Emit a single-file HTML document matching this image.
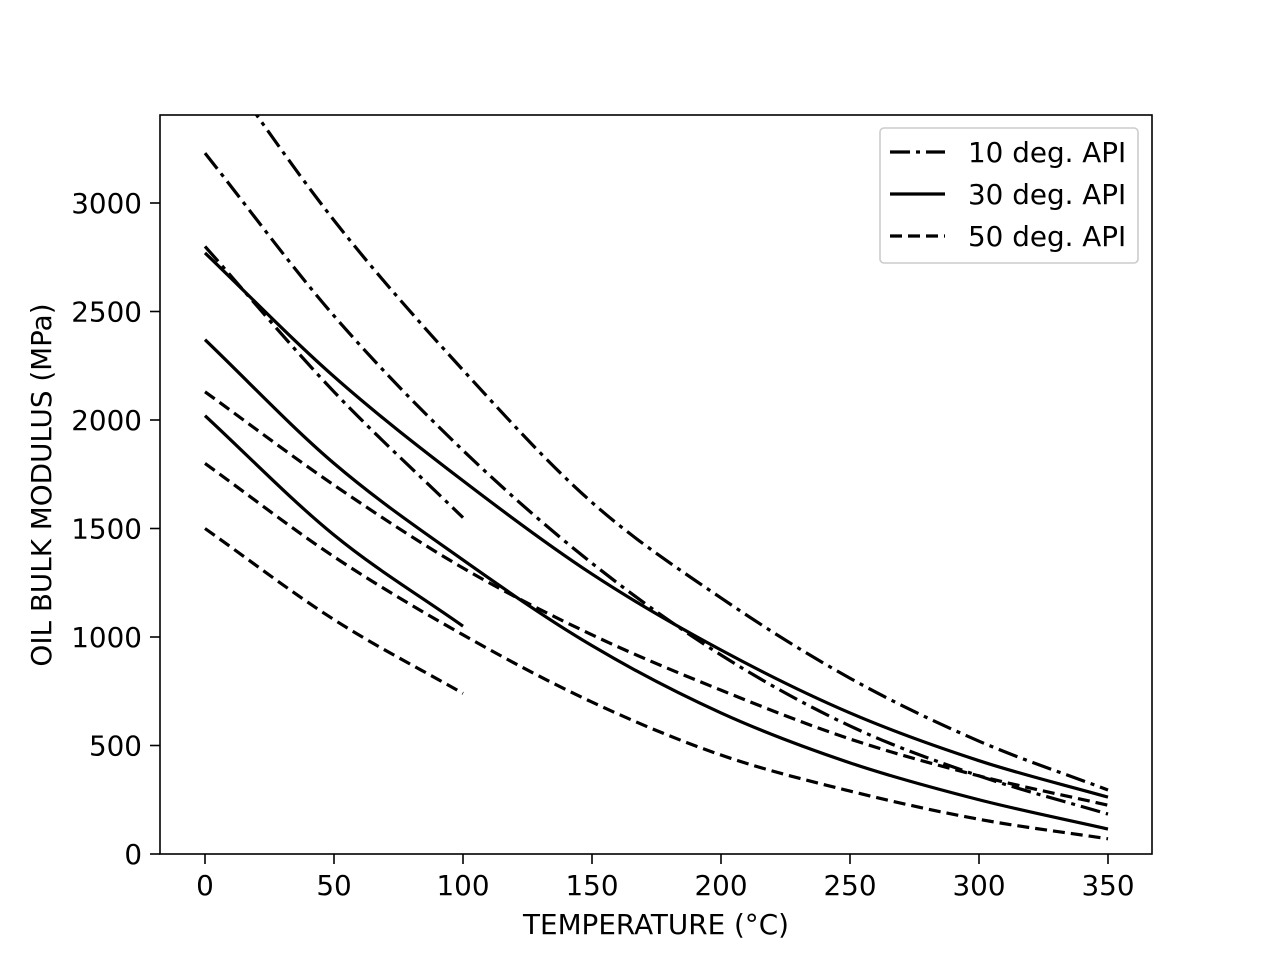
<!DOCTYPE html>
<html><head><meta charset="utf-8"><style>
body{margin:0;background:#fff}
svg text{font-family:"DejaVu Sans","Liberation Sans",sans-serif;font-size:27.8px;fill:#000}
</style></head><body>
<svg id="chart" width="1280" height="960" xmlns="http://www.w3.org/2000/svg">
<defs><clipPath id="clip"><rect x="160" y="115" width="992" height="739"/></clipPath></defs>
<rect x="0" y="0" width="1280" height="960" fill="#fff"/>
<g id="lines" clip-path="url(#clip)"></g>
<g id="axes"></g>
<rect x="160" y="115" width="992" height="739" fill="none" stroke="#000" stroke-width="1.6"/>
<text x="656" y="934" text-anchor="middle">TEMPERATURE (°C)</text>
<text transform="translate(51,485) rotate(-90)" text-anchor="middle">OIL BULK MODULUS (MPa)</text>
<g>
<rect x="880" y="128" width="258" height="135" rx="4" fill="#fff" stroke="#ccc" stroke-width="1.6"/>
<line x1="890" y1="152" x2="945" y2="152" stroke="#000" stroke-width="3.2" stroke-dasharray="20,6,4,6"/>
<text x="968" y="162">10 deg. API</text>
<line x1="890" y1="194" x2="945" y2="194" stroke="#000" stroke-width="3.2"/>
<text x="968" y="204">30 deg. API</text>
<line x1="890" y1="236" x2="945" y2="236" stroke="#000" stroke-width="3.2" stroke-dasharray="12,6"/>
<text x="968" y="246">50 deg. API</text>
</g>
</svg>
<script>
const xTicks=[0,50,100,150,200,250,300,350];
const yTicks=[0,500,1000,1500,2000,2500,3000];
const tFull=[0,50,100,150,200,250,300,350];
const tShort=[0,50,100];
const api10a=[3740,2920,2230,1620,1180,810,520,295];
const api10b=[3230,2480,1860,1340,917,590,360,184];
const api10c=[2800,2130,1550];
const api30a=[2770,2200,1720,1290,940,650,430,262];
const api30b=[2370,1800,1355,960,650,420,250,115];
const api30c=[2020,1470,1050];
const api50a=[2130,1700,1318,1010,755,530,360,225];
const api50b=[1800,1370,1010,700,456,290,160,70];
const api50c=[1500,1080,740];
const X=t=>205+(t)*(1108-205)/350;
const Y=v=>854-v*(854-203)/3000;
const NS="http://www.w3.org/2000/svg";
const axes=document.getElementById('axes');
xTicks.forEach(t=>{
 const l=document.createElementNS(NS,'line');
 l.setAttribute('x1',X(t));l.setAttribute('x2',X(t));l.setAttribute('y1',854);l.setAttribute('y2',864);
 l.setAttribute('stroke','#000');l.setAttribute('stroke-width','1.6');
 
 
 axes.appendChild(l);
 const tx=document.createElementNS(NS,'text');
 tx.setAttribute('x',X(t));tx.setAttribute('y',895);tx.setAttribute('text-anchor','middle');
 tx.textContent=t;
 
 
 axes.appendChild(tx);
});
yTicks.forEach(v=>{
 const l=document.createElementNS(NS,'line');
 l.setAttribute('x1',150);l.setAttribute('x2',160);l.setAttribute('y1',Y(v));l.setAttribute('y2',Y(v));
 l.setAttribute('stroke','#000');l.setAttribute('stroke-width','1.6');
 
 
 axes.appendChild(l);
 const tx=document.createElementNS(NS,'text');
 tx.setAttribute('x',142);tx.setAttribute('y',Y(v)+10);tx.setAttribute('text-anchor','end');
 tx.textContent=v;
 
 
 axes.appendChild(tx);
});
function pathFor(ts,vs){
 const p=ts.map((t,i)=>[X(t),Y(vs[i])]);
 let d='M'+p[0][0]+','+p[0][1];
 for(let i=0;i<p.length-1;i++){
  const p1=p[i],p2=p[i+1];
  const p0=p[i-1]||[2*p1[0]-p2[0],2*p1[1]-p2[1]];
  const p3=p[i+2]||[2*p2[0]-p1[0],2*p2[1]-p1[1]];
  const c1=[p1[0]+(p2[0]-p0[0])/6,p1[1]+(p2[1]-p0[1])/6];
  const c2=[p2[0]-(p3[0]-p1[0])/6,p2[1]-(p3[1]-p1[1])/6];
  d+=' C'+c1+' '+c2+' '+p2;
 }
 return d;
}
const g=document.getElementById('lines');
function draw(ts,vs,dash,name){
 const p=document.createElementNS(NS,'path');
 p.setAttribute('d',pathFor(ts,vs));
 p.setAttribute('fill','none');p.setAttribute('stroke','#000');p.setAttribute('stroke-width','3.2');
 if(dash)p.setAttribute('stroke-dasharray',dash);
 
 
 g.appendChild(p);
}
const DD='20,6,4,6',DA='12,6';
draw(tFull,api10a,DD,'series-10api-a');
draw(tFull,api10b,DD,'series-10api-b');
draw(tShort,api10c,DD,'series-10api-c');
draw(tFull,api30a,null,'series-30api-a');
draw(tFull,api30b,null,'series-30api-b');
draw(tShort,api30c,null,'series-30api-c');
draw(tFull,api50a,DA,'series-50api-a');
draw(tFull,api50b,DA,'series-50api-b');
draw(tShort,api50c,DA,'series-50api-c');
</script>
</body></html>
